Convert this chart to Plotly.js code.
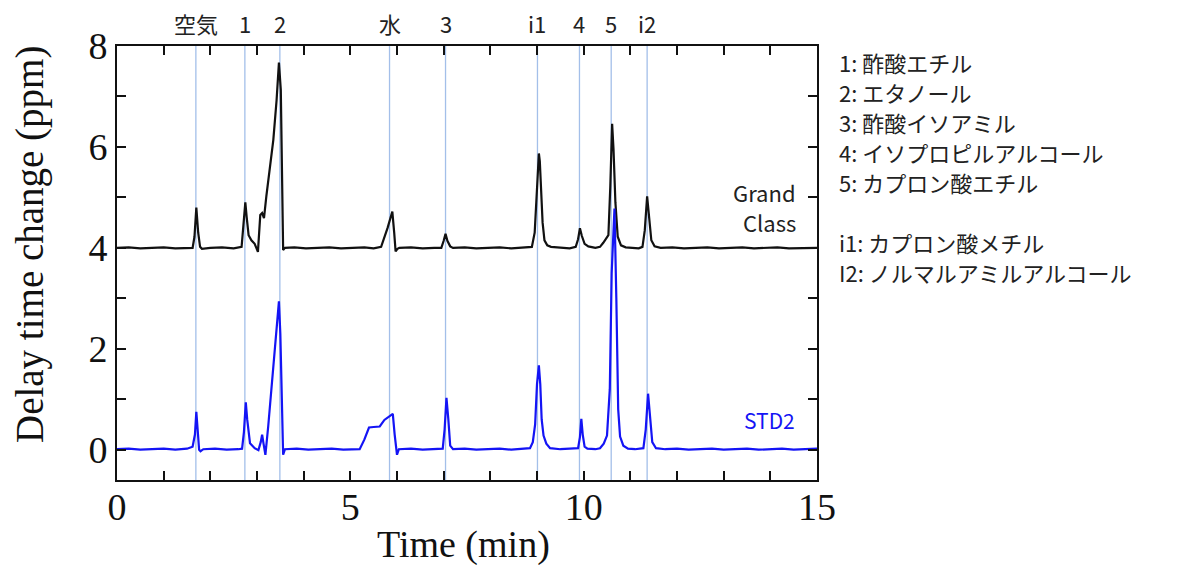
<!DOCTYPE html>
<html>
<head>
<meta charset="utf-8">
<script src="https://cdn.plot.ly/plotly-3.0.1.min.js"></script>
<style>html,body{margin:0;padding:0;background:#fff;}#chart{width:1200px;height:565px;}</style>
</head>
<body>
<div id="chart"></div>
<script>
// Grand Class (black) trace
var gcTime = [0.00,0.25,0.50,0.75,1.00,1.25,1.50,1.62,1.66,1.70,1.74,1.78,1.82,2.00,2.25,2.50,2.67,2.71,2.75,2.78,2.82,2.88,2.95,3.02,3.07,3.11,3.15,3.20,3.35,3.42,3.47,3.51,3.56,3.60,3.80,4.05,4.30,4.55,4.80,5.05,5.30,5.50,5.66,5.80,5.90,5.94,5.97,6.01,6.05,6.30,6.55,6.80,6.95,7.00,7.04,7.08,7.14,7.20,7.45,7.70,7.95,8.20,8.45,8.70,8.89,8.95,8.99,9.02,9.04,9.06,9.09,9.12,9.16,9.22,9.30,9.50,9.70,9.83,9.88,9.92,9.96,10.02,10.10,10.25,10.35,10.42,10.48,10.53,10.57,10.61,10.64,10.68,10.73,10.80,10.90,11.05,11.18,11.26,11.31,11.36,11.40,11.45,11.52,11.65,11.90,12.15,12.40,12.65,12.90,13.15,13.40,13.65,13.90,14.15,14.40,14.65,14.90,15.00];
var gcValue = [4.00,4.01,3.99,4.00,4.01,3.99,4.00,4.00,4.22,4.80,4.30,4.02,3.98,4.00,4.01,3.99,4.02,4.45,4.90,4.60,4.25,4.15,4.08,3.92,4.65,4.69,4.59,5.02,6.14,6.93,7.67,7.13,3.96,4.00,4.01,3.99,4.00,4.01,3.99,4.00,4.01,3.99,4.02,4.40,4.72,4.30,3.93,3.98,4.00,4.01,3.99,4.00,4.00,4.14,4.28,4.14,4.03,4.00,4.01,3.99,4.00,4.01,3.99,4.00,4.02,4.30,5.00,5.70,5.87,5.72,5.10,4.50,4.15,4.05,4.02,4.00,3.99,4.02,4.17,4.39,4.24,4.08,4.03,4.00,4.02,4.10,4.18,4.25,5.20,6.46,5.95,4.90,4.22,4.05,4.01,4.00,3.99,4.02,4.35,5.02,4.65,4.15,4.03,4.00,4.01,3.99,4.00,4.01,3.99,4.00,4.01,3.99,4.00,4.01,3.99,4.00,4.01,4.00];

// STD2 (blue) trace
var stdTime = [0.00,0.25,0.50,0.75,1.00,1.25,1.50,1.62,1.67,1.70,1.73,1.76,1.79,1.85,2.10,2.35,2.60,2.68,2.72,2.76,2.79,2.85,2.95,3.03,3.08,3.11,3.14,3.18,3.24,3.35,3.42,3.47,3.50,3.52,3.56,3.60,3.85,4.10,4.35,4.60,4.85,5.10,5.20,5.30,5.40,5.50,5.63,5.73,5.85,5.91,5.95,6.00,6.04,6.30,6.55,6.80,6.98,7.02,7.06,7.10,7.14,7.20,7.45,7.70,7.95,8.20,8.45,8.70,8.85,8.91,8.96,9.00,9.04,9.07,9.10,9.14,9.20,9.28,9.50,9.70,9.88,9.92,9.95,9.98,10.02,10.08,10.25,10.35,10.43,10.50,10.56,10.60,10.66,10.70,10.74,10.78,10.85,10.95,11.10,11.28,11.33,11.38,11.42,11.47,11.55,11.75,12.00,12.25,12.50,12.75,13.00,13.25,13.50,13.75,14.00,14.25,14.50,14.75,15.00];
var stdValue = [0.01,0.02,0.00,0.01,0.02,0.00,0.02,0.06,0.30,0.75,0.40,0.00,-0.03,0.01,0.02,0.00,0.01,0.02,0.35,0.94,0.60,0.13,0.03,-0.01,0.15,0.30,0.12,-0.10,0.46,1.72,2.44,2.94,2.30,1.39,-0.10,0.01,0.02,0.00,0.01,0.02,0.00,0.01,0.01,0.20,0.44,0.45,0.46,0.59,0.66,0.71,0.30,-0.10,0.01,0.02,0.00,0.01,0.02,0.40,1.03,0.60,0.08,0.01,0.02,0.00,0.01,0.02,0.00,0.01,0.03,0.15,0.50,1.30,1.67,1.30,0.60,0.28,0.12,0.03,0.01,0.02,0.03,0.25,0.61,0.30,0.06,0.02,0.01,0.03,0.12,0.28,1.20,3.50,4.78,3.00,0.80,0.26,0.08,0.02,0.01,0.03,0.40,1.11,0.60,0.15,0.03,0.01,0.02,0.00,0.01,0.02,0.00,0.01,0.02,0.00,0.01,0.02,0.00,0.01,0.02];

// Peak markers
var peakTimes = [1.69, 2.74, 3.49, 5.84, 7.04, 9.01, 9.91, 10.59, 11.36];
var peakLabels = ['空気', '1', '2', '水', '3', 'i1', '4', '5', 'i2'];

// Compound legend (empty string = blank line)
var legendLines = ['1: 酢酸エチル', '2: エタノール', '3: 酢酸イソアミル', '4: イソプロピルアルコール', '5: カプロン酸エチル', '', 'i1: カプロン酸メチル', 'I2: ノルマルアミルアルコール'];

var xTicks = [0, 5, 10, 15];
var yTicks = [0, 2, 4, 6, 8];

var L = 117, R = 817, T = 46, B = 480;
var W = 1200, H = 565;
var plotH = B - T;
function py(pix) { return (B - pix) / plotH; }
function px(pix) { return (pix - L) / (R - L); }

var traces = [
  {x: gcTime, y: gcValue, type: 'scatter', mode: 'lines', line: {color: '#111111', width: 2.2}, hoverinfo: 'skip'},
  {x: stdTime, y: stdValue, type: 'scatter', mode: 'lines', line: {color: '#1414f5', width: 2.2}, hoverinfo: 'skip'}
];

var shapes = peakTimes.map(function (t) {
  return {type: 'line', xref: 'x', yref: 'paper', x0: t, x1: t, y0: 0, y1: 1, layer: 'below', line: {color: '#a3bfe9', width: 1.3}};
});

var jp = '"Noto Sans CJK JP", "Noto Sans", sans-serif';
var serif = '"Liberation Serif", "Times New Roman", serif';
var annotations = peakLabels.map(function (lab, i) {
  return {text: lab, x: peakTimes[i], xref: 'x', y: py(23), yref: 'paper', showarrow: false, xanchor: 'center', yanchor: 'middle', font: {family: jp, size: 22, color: '#222'}};
});
legendLines.forEach(function (txt, i) {
  if (!txt) return;
  annotations.push({text: txt, x: px(838), xref: 'paper', y: py(62 + i * 30), yref: 'paper', showarrow: false, xanchor: 'left', yanchor: 'middle', borderpad: 0, font: {family: jp, size: 22, color: '#222'}});
});
annotations.push({text: 'Grand', x: px(797), xref: 'paper', y: py(192), yref: 'paper', showarrow: false, xanchor: 'right', yanchor: 'middle', borderpad: 0, font: {family: jp, size: 22, color: '#222'}});
annotations.push({text: 'Class', x: px(797), xref: 'paper', y: py(222), yref: 'paper', showarrow: false, xanchor: 'right', yanchor: 'middle', borderpad: 0, font: {family: jp, size: 22, color: '#222'}});
annotations.push({text: 'STD2', x: px(797), xref: 'paper', y: py(420), yref: 'paper', showarrow: false, xanchor: 'right', yanchor: 'middle', font: {family: jp, size: 21, color: '#1414f5'}});
// axis titles placed as in the reference
annotations.push({text: 'Delay time change (ppm)', textangle: -90, x: px(30), xref: 'paper', y: py(245), yref: 'paper', showarrow: false, xanchor: 'center', yanchor: 'middle', font: {family: serif, size: 39, color: '#111'}});
annotations.push({text: 'Time (min)', x: px(463), xref: 'paper', y: py(544), yref: 'paper', showarrow: false, xanchor: 'center', yanchor: 'middle', font: {family: serif, size: 38, color: '#111'}});

var layout = {
  width: W, height: H,
  margin: {l: L, r: W - R, t: T, b: H - B},
  paper_bgcolor: '#fff', plot_bgcolor: '#fff',
  showlegend: false,
  xaxis: {
    range: [0, 15], tickvals: xTicks, ticktext: xTicks.map(String),
    ticks: 'inside', ticklen: 9, tickwidth: 2, tickcolor: '#111',
    minor: {dtick: 1, tick0: 0, ticks: 'inside', ticklen: 9, tickwidth: 2, tickcolor: '#111'},
    showline: true, linewidth: 2, linecolor: '#111', mirror: 'ticks',
    showgrid: false, zeroline: false,
    tickfont: {family: serif, size: 38, color: '#111'},
    ticklabelstandoff: -8,
    automargin: false
  },
  yaxis: {
    range: [-0.6, 8], tickvals: yTicks, ticktext: yTicks.map(String),
    ticks: 'inside', ticklen: 9, tickwidth: 2, tickcolor: '#111',
    minor: {dtick: 1, tick0: 0, ticks: 'inside', ticklen: 9, tickwidth: 2, tickcolor: '#111'},
    showline: true, linewidth: 2, linecolor: '#111', mirror: 'ticks',
    showgrid: false, zeroline: false,
    tickfont: {family: serif, size: 38, color: '#111'},
    automargin: false
  },
  shapes: shapes,
  annotations: annotations
};

Plotly.newPlot('chart', traces, layout, {staticPlot: true, displayModeBar: false});
</script>
</body>
</html>
